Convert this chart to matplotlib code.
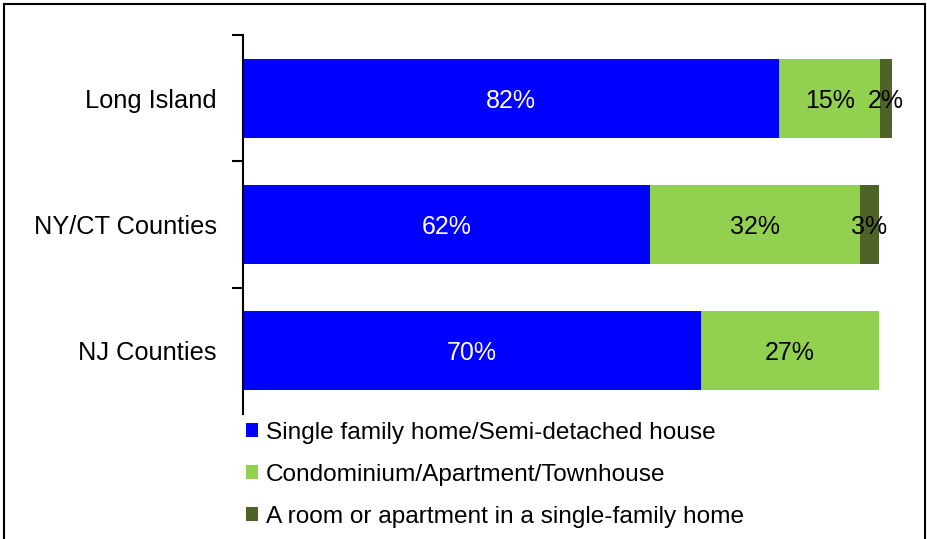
import matplotlib
matplotlib.use("Agg")
import matplotlib.pyplot as plt
from matplotlib.patches import Patch, Rectangle

plt.rcParams['font.family'] = ['Liberation Sans', 'DejaVu Sans']

categories = ["Long Island", "NY/CT Counties", "NJ Counties"]
series_names = ["Single family home/Semi-detached house",
                "Condominium/Apartment/Townhouse",
                "A room or apartment in a single-family home"]
single_family = [82.0, 62.2, 70.0]
condo = [15.4, 32.1, 27.2]
room = [1.8, 2.9, 0.0]
series = [single_family, condo, room]
colors = ["#0000FF", "#92D050", "#4F6228"]
label_colors = ["white", "black", "black"]

W, H = 928, 539
fig = plt.figure(figsize=(W / 100, H / 100), dpi=100)

# axes placement in pixels
left_px, right_px, top_px, bottom_px = 243, 897, 35, 414
ax = fig.add_axes([left_px / W, 1 - bottom_px / H, (right_px - left_px) / W, (bottom_px - top_px) / H])

y = list(range(len(categories)))
lefts = [0.0] * len(categories)
for vals, col, lc in zip(series, colors, label_colors):
    ax.barh(y, vals, left=lefts, height=0.625, color=col, edgecolor="none")
    for i, (v, l) in enumerate(zip(vals, lefts)):
        if v > 0:
            ax.text(l + v / 2, i + 0.02, f"{round(v):d}%", ha="center", va="center",
                    color=lc, fontsize=18)
    lefts = [a + b for a, b in zip(lefts, vals)]

ax.set_xlim(0, 100)
ax.set_ylim(len(categories) - 0.5, -0.5)
ax.set_xticks([])
ax.set_yticks([-0.5, 0.5, 1.5], minor=False)
ax.set_yticklabels([])
ax.set_yticks(y, minor=True)
ax.set_yticklabels(categories, minor=True, fontsize=18.3)
ax.tick_params(axis="y", which="major", length=8, width=1.5, direction="out")
ax.tick_params(axis="y", which="minor", length=0, pad=19)
for s in ["top", "right", "bottom"]:
    ax.spines[s].set_visible(False)
ax.spines["left"].set_linewidth(1.5)

handles = [Patch(facecolor=c, edgecolor="none") for c in colors]
fig.legend(handles, series_names, loc="upper left",
           bbox_to_anchor=(246 / W, 1 - 422 / H), frameon=False,
           fontsize=17.6, handlelength=0.5, handleheight=0.5, handletextpad=0.3,
           labelspacing=0.82, borderpad=0, borderaxespad=0)

# figure frame (bottom edge cut off)
fig.patches.append(Rectangle((4 / W, -0.1), (925 - 4) / W, 1.1 - 4 / H,
                             transform=fig.transFigure, fill=False,
                             edgecolor="black", linewidth=1.5))

fig.savefig("out.png", dpi=100)
